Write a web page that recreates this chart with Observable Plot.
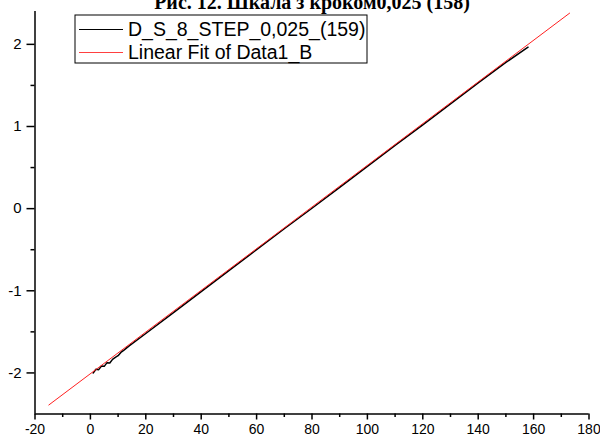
<!DOCTYPE html>
<html>
<head>
<meta charset="utf-8">
<script src="https://cdn.jsdelivr.net/npm/d3@7"></script>
<script src="https://cdn.jsdelivr.net/npm/@observablehq/plot@0.6"></script>
<style>
  html, body { margin: 0; padding: 0; background: white; overflow: hidden; }
  #wrap { position: relative; width: 600px; height: 442px; overflow: hidden; }
  #legend { position: absolute; left: 74px; top: 14px; }
</style>
</head>
<body>
<div id="wrap"></div>
<script>
// ---- data ----
const title = "Рис. 12. Шкала з кроком0,025 (158)";
const seriesNames = ["D_S_8_STEP_0,025_(159)", "Linear Fit of Data1_B"];

// measured data (black)
const dataX = [1, 2, 3, 4, 5, 6, 7, 8, 9, 10, 11, 12, 14, 20, 30, 40, 50, 60, 70, 80, 90, 100, 110, 120, 130, 140, 150, 158];
const dataY = [-2.00, -1.955, -1.96, -1.915, -1.92, -1.875, -1.88, -1.835, -1.81, -1.79, -1.75, -1.725, -1.67, -1.52, -1.265, -1.01, -0.755, -0.50, -0.245, 0.005, 0.26, 0.515, 0.77, 1.02, 1.275, 1.53, 1.78, 1.965];

// linear fit (red) end points
const fitX = [-15, 173];
const fitY = [-2.39, 2.38];

// axes
const xTicks = [-20, 0, 20, 40, 60, 80, 100, 120, 140, 160, 180];
const xMinor = [-10, 10, 30, 50, 70, 90, 110, 130, 150, 170];
const yTicks = [-2, -1, 0, 1, 2];
const yMinor = [-1.5, -0.5, 0.5, 1.5];
const xDomain = [-20, 180];
const yDomain = [-2.5, 2.4];

const dataRows = dataX.map((x, i) => ({x, y: dataY[i]}));
const fitRows = fitX.map((x, i) => ({x, y: fitY[i]}));

const chart = Plot.plot({
  width: 600,
  height: 442,
  marginLeft: 34.5,
  marginRight: 11.5,
  marginTop: 11,
  marginBottom: 28.5,
  style: {fontFamily: "'Liberation Sans', Arial, sans-serif", fontSize: "15px", color: "black", background: "white", overflow: "visible"},
  x: {domain: xDomain, label: null},
  y: {domain: yDomain, label: null},
  marks: [
    Plot.axisX(xTicks, {tickSize: 6, tickPadding: 4, strokeWidth: 1.5, fontSize: 14, tickFormat: d => String(d), label: null}),
    Plot.axisX(xMinor, {tickSize: 3.5, strokeWidth: 1.5, text: null, label: null}),
    Plot.axisY(yTicks, {tickSize: 8, tickPadding: 5.5, strokeWidth: 1.5, fontSize: 15, tickFormat: d => String(d), label: null}),
    Plot.axisY(yMinor, {tickSize: 4, strokeWidth: 1.5, text: null, label: null}),
    Plot.ruleY([yDomain[0]], {stroke: "black", strokeWidth: 1.5}),
    Plot.ruleX([xDomain[0]], {stroke: "black", strokeWidth: 1.5}),
    Plot.line(dataRows, {x: "x", y: "y", stroke: "black", strokeWidth: 1.5}),
    Plot.line(fitRows, {x: "x", y: "y", stroke: "#ff2020", strokeWidth: 1}),
    Plot.text([title], {frameAnchor: "top", lineAnchor: "bottom", dy: -3, fontSize: 20, fontWeight: "bold", fontFamily: "'Liberation Serif', 'Times New Roman', serif", fill: "black"})
  ]
});

const wrap = document.getElementById("wrap");
wrap.appendChild(chart);

// legend box (drawn inside the plot frame, top-left)
const leg = d3.create("svg").attr("id", "legend").attr("width", 296).attr("height", 52);
leg.append("rect").attr("x", 1).attr("y", 1).attr("width", 292).attr("height", 48)
  .attr("fill", "white").attr("stroke", "black").attr("stroke-width", 1);
const legColors = ["black", "#ff4040"];
seriesNames.forEach((name, i) => {
  const cy = 15.5 + i * 23;
  leg.append("line").attr("x1", 5).attr("x2", 49).attr("y1", cy).attr("y2", cy)
    .attr("stroke", legColors[i]).attr("stroke-width", 1);
  leg.append("text").attr("x", 54).attr("y", cy + 6.5).text(name)
    .attr("font-family", "'Liberation Sans', Arial, sans-serif").attr("font-size", 19.5).attr("fill", "black");
});
wrap.appendChild(leg.node());
</script>
</body>
</html>
